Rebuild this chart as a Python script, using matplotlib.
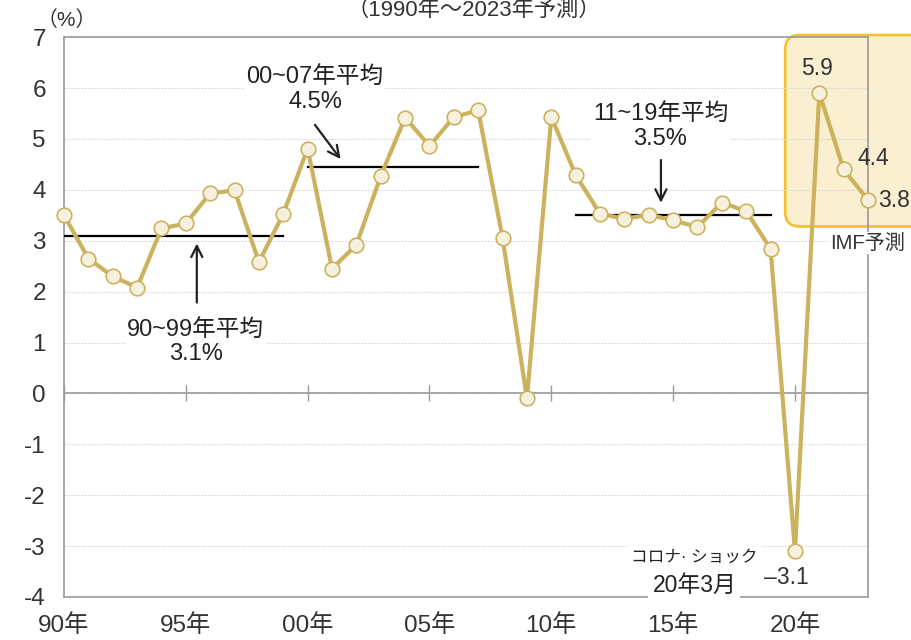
import numpy as np
import matplotlib
matplotlib.use("Agg")
import matplotlib.pyplot as plt
from matplotlib.patches import FancyBboxPatch

plt.rcParams['font.family'] = ['Liberation Sans', 'Noto Sans CJK JP', 'DejaVu Sans']

# 実質GDP成長率 (%) 1990-2023
years = np.arange(1990, 2024)
growth = [3.5, 2.65, 2.3, 2.08, 3.24, 3.34, 3.93, 3.99, 2.58, 3.53,
          4.81, 2.45, 2.92, 4.27, 5.42, 4.86, 5.43, 5.56, 3.05, -0.1,
          5.43, 4.29, 3.53, 3.43, 3.51, 3.40, 3.27, 3.75, 3.58, 2.84,
          -3.1, 5.9, 4.4, 3.8]

# 期間平均
avg_periods = [(1990, 1999), (2000, 2007), (2011, 2019)]
avg_values = [3.1, 4.45, 3.5]

xtick_years = [1990, 1995, 2000, 2005, 2010, 2015, 2020]
xtick_labels = ["90年", "95年", "00年", "05年", "10年", "15年", "20年"]

gold = "#CDB25E"
txt = "#333333"

fig = plt.figure(figsize=(9.12, 6.4), dpi=100)
ax = fig.add_axes([0.0702, 0.0672, 0.8816, 0.8748])

ax.set_xlim(1990, 2023)
ax.set_ylim(-4, 7)
ax.set_yticks(range(-4, 8))
ax.set_yticklabels([str(v) for v in range(-4, 8)])
ax.set_xticks(xtick_years)
ax.set_xticklabels(xtick_labels)
ax.tick_params(axis='y', length=0, pad=13, labelsize=17.5, labelcolor=txt)
ax.tick_params(axis='x', length=0, pad=12, labelsize=17.5, labelcolor=txt)

for s in ax.spines.values():
    s.set_color("#999999")
    s.set_linewidth(1.2)

ax.grid(axis='y', color="#DDDDDD", linestyle=(0, (2, 1)), linewidth=0.8, zorder=1)
ax.set_axisbelow(True)

# ゼロ線と目盛
ax.axhline(0, color="#999999", lw=1.2, zorder=2)
sec = ax.secondary_xaxis(4 / 11)
sec.set_xticks(xtick_years)
sec.set_xticklabels([])
sec.tick_params(direction='inout', length=12, width=1, color="#999999")
sec.spines['bottom'].set_visible(False)

# IMF予測の枠
box = FancyBboxPatch((2019.6, 3.28), 8, 3.76, boxstyle="round,pad=0,rounding_size=0.6",
                     mutation_aspect=1 / 2.1, facecolor="#FAEFD0", edgecolor="#F2C232",
                     lw=2, clip_on=False, zorder=0.5)
ax.add_patch(box)

ax.plot(years, growth, color=gold, lw=3, marker='o', ms=10.5,
        markerfacecolor="#F6F0DF", markeredgecolor=gold, markeredgewidth=1.2,
        clip_on=False, zorder=4)

for (a, b), v in zip(avg_periods, avg_values):
    ax.plot([a, b], [v, v], color="black", lw=1.6, zorder=3)

bb = dict(facecolor="white", edgecolor="none", pad=1)
ax.text(1995.4, 1.0, "90~99年平均\n3.1%", ha='center', va='center', fontsize=17,
        color="#222222", linespacing=1.1, bbox=bb, zorder=5)
ax.annotate("", xy=(1995.45, 3.0), xytext=(1995.45, 1.73),
            arrowprops=dict(arrowstyle="->", color="#222222", lw=1.6, mutation_scale=20))
ax.text(2000.3, 5.96, "00~07年平均\n4.5%", ha='center', va='center', fontsize=17,
        color="#222222", linespacing=1.1, bbox=bb, zorder=5)
ax.annotate("", xy=(2001.42, 4.56), xytext=(2000.23, 5.32),
            arrowprops=dict(arrowstyle="->", color="#222222", lw=1.6, mutation_scale=20))
ax.text(2014.48, 5.23, "11~19年平均\n3.5%", ha='center', va='center', fontsize=17,
        color="#222222", linespacing=1.1, bbox=bb, zorder=5)
ax.annotate("", xy=(2014.5, 3.69), xytext=(2014.5, 4.64),
            arrowprops=dict(arrowstyle="->", color="#222222", lw=1.6, mutation_scale=20))

ax.text(2020.9, 6.39, "5.9", ha='center', va='center', fontsize=16.5, color=txt)
ax.text(2023.2, 4.62, "4.4", ha='center', va='center', fontsize=16.5, color=txt, clip_on=False)
ax.text(2024.05, 3.79, "3.8", ha='center', va='center', fontsize=16.5, color=txt, clip_on=False)
ax.text(2023.0, 2.95, "IMF予測", ha='center', va='center', fontsize=14.5, color=txt,
        bbox=dict(facecolor="white", edgecolor="none", pad=1), zorder=5)
ax.text(2019.65, -3.61, "–3.1", ha='center', va='center', fontsize=16.5, color=txt)
ax.text(2015.87, -3.22, "コロナ· ショック", ha='center', va='center', fontsize=12,
        color="#222222", bbox=dict(facecolor="white", edgecolor="none", pad=3), zorder=5)
ax.text(2015.87, -3.77, "20年3月", ha='center', va='center', fontsize=16.5,
        color="#222222", bbox=dict(facecolor="white", edgecolor="none", pad=3),
        zorder=5, clip_on=False)

fig.text(0.073, 0.968, "（%）", ha='center', va='center', fontsize=15, color=txt)
fig.text(0.52, 1.0, "（1990年～2023年予測）", ha='center', va='top', fontsize=16, color=txt)

fig.savefig("out.png", dpi=100)
